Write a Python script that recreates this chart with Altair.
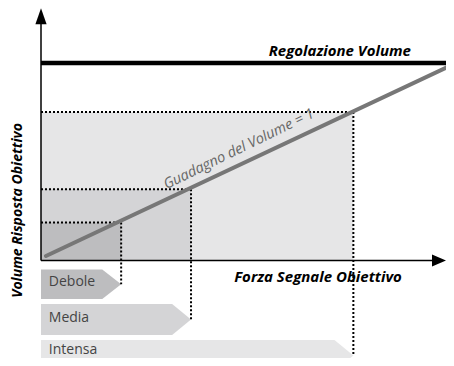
import altair as alt
import pandas as pd

# ---- data ----
levels = ["Debole", "Media", "Intensa"]
level_values = [19.5, 36.5, 76.0]          # signal strength = response (gain 1)
fills = ["#bdbdbf", "#d4d4d6", "#e6e6e7"]
band_top = [-4.6, -22.3, -40.7]
band_bottom = [-19.7, -38.1, -56.5]
label_base = [-13.0, -31.3, -47.6]
tip_len = 4.6

gain_x = [1.2, 100.0]
gain_y = [2.3, 100.0]
max_level = 101.0

x_domain = [-8.03, 98.54]
y_domain = [-49.87, 129.16]
W, H = 438, 350

FONT = "Open Sans"

xs = alt.Scale(domain=x_domain, nice=False, zero=False)
ys = alt.Scale(domain=y_domain, nice=False, zero=False)
color_scale = alt.Scale(domain=levels, range=fills)

def X(f, **kw):
    return alt.X(f, type="quantitative", scale=xs, axis=None, **kw)

def Y(f, **kw):
    return alt.Y(f, type="quantitative", scale=ys, axis=None, **kw)

# rectangles (largest first)
rect_df = pd.DataFrame({"level": levels, "v": level_values, "zero": 0.0})
rect_df = rect_df.iloc[::-1].reset_index(drop=True)
rects = alt.Chart(rect_df).mark_rect().encode(
    x=X("zero"), x2="v", y=Y("zero"), y2="v",
    color=alt.Color("level:N", scale=color_scale, legend=None),
)

# arrow-shaped bands
rows = []
for name, v, t, b in zip(levels, level_values, band_top, band_bottom):
    m = (t + b) / 2
    rows += [
        {"level": name, "x": 0.0, "top": t, "bot": b},
        {"level": name, "x": v - tip_len, "top": t, "bot": b},
        {"level": name, "x": v, "top": m, "bot": m},
    ]
band_df = pd.DataFrame(rows)
bands = alt.Chart(band_df).mark_area(interpolate="linear", opacity=1).encode(
    x=X("x"), y=Y("top"), y2="bot",
    color=alt.Color("level:N", scale=color_scale, legend=None),
    detail="level:N",
)

# dotted guides
dot_df = pd.DataFrame({
    "level": levels, "v": level_values, "zero": 0.0,
    "mid": [(t + b) / 2 for t, b in zip(band_top, band_bottom)],
})
dot_style = dict(color="black", strokeWidth=2, strokeDash=[2, 2], strokeCap="butt")
hdots = alt.Chart(dot_df).mark_rule(**dot_style).encode(
    x=X("zero"), x2="v", y=Y("v"))
vdots = alt.Chart(dot_df).mark_rule(**dot_style).encode(
    x=X("v"), y=Y("v"), y2="mid")

# gain line
gain_df = pd.DataFrame({"x": gain_x, "y": gain_y})
gain = alt.Chart(gain_df).mark_line(color="#777777", strokeWidth=4, strokeCap="round").encode(
    x=X("x"), y=Y("y"))

# max volume line
max_df = pd.DataFrame({"x": [0.0], "x2": [x_domain[1]], "y": [max_level]})
maxline = alt.Chart(max_df).mark_rule(color="black", strokeWidth=4.5).encode(
    x=X("x"), x2="x2", y=Y("y"))

# axes
axes_df = pd.DataFrame({"x": [0.0, 0.0], "x2": [0.0, 96.84], "y": [0.0, 0.0], "y2": [124.9, 0.0]})
axes = alt.Chart(axes_df).mark_rule(color="black", strokeWidth=1.5).encode(
    x=X("x"), x2="x2", y=Y("y"), y2="y2")

up_df = pd.DataFrame({"x": [0.0], "y": [124.9]})
up_arrow = alt.Chart(up_df).mark_point(
    shape="M0,-1L0.7,1L-0.7,1Z", size=256, filled=True, color="black", opacity=1
).encode(x=X("x"), y=Y("y"))
right_df = pd.DataFrame({"x": [96.84], "y": [0.0]})
right_arrow = alt.Chart(right_df).mark_point(
    shape="M1,0L-1,-0.85L-1,0.85Z", size=196, filled=True, color="black", opacity=1
).encode(x=X("x"), y=Y("y"))

# texts
title_df = pd.DataFrame({
    "label": ["Regolazione Volume", "Forza Segnale Obiettivo"],
    "x": [90.0, 87.8], "y": [104.6, -10.8],
})
titles = alt.Chart(title_df).mark_text(
    font=FONT, fontSize=15, fontWeight="bold", fontStyle="italic",
    align="right", baseline="alphabetic", color="black"
).encode(x=X("x"), y=Y("y"), text="label:N")

ytitle_df = pd.DataFrame({"label": ["Volume Risposta Obiettivo"], "x": [-5.6], "y": [25.6]})
ytitle = alt.Chart(ytitle_df).mark_text(
    font=FONT, fontSize=14, fontWeight="bold", fontStyle="italic",
    align="center", baseline="middle", angle=270, color="black"
).encode(x=X("x"), y=Y("y"), text="label:N")

gain_lbl_df = pd.DataFrame({"label": ["Guadagno del Volume = 1"], "x": [48.2], "y": [56.8]})
gain_lbl = alt.Chart(gain_lbl_df).mark_text(
    font=FONT, fontSize=14.5, fontStyle="italic",
    align="center", baseline="middle", angle=334, color="#666666"
).encode(x=X("x"), y=Y("y"), text="label:N")

band_lbl_df = pd.DataFrame({"label": levels, "x": [1.9] * 3, "y": label_base})
band_lbl = alt.Chart(band_lbl_df).mark_text(
    font=FONT, fontSize=14, align="left", baseline="alphabetic", color="#444444"
).encode(x=X("x"), y=Y("y"), text="label:N")

chart = alt.layer(
    rects, bands, hdots, vdots, gain, maxline, axes, up_arrow, right_arrow,
    titles, ytitle, gain_lbl, band_lbl
).properties(
    width=W, height=H, padding=0, autosize=alt.AutoSizeParams(type="none")
).configure_view(stroke=None)

chart.save("out.html", embed_options={"renderer": "svg", "actions": False})
